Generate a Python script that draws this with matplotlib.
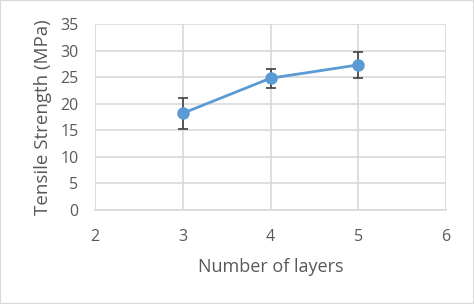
import matplotlib.pyplot as plt
from matplotlib.patches import Rectangle

# data
layers = [3, 4, 5]
strength = [18.2, 24.8, 27.3]
err_up = [2.9, 1.8, 2.45]
err_down = [2.9, 1.8, 2.45]

plt.rcParams['font.family'] = ['Open Sans', 'DejaVu Sans']

fig = plt.figure(figsize=(4.74, 3.04), dpi=100)
ax = fig.add_axes([95 / 474, 1 - 210 / 304, (446 - 95) / 474, (210 - 24) / 304])

ax.errorbar(layers, strength, yerr=[err_down, err_up], fmt='none',
            ecolor='#404040', elinewidth=1.2, capsize=3.5, capthick=1.2, zorder=3)
ax.plot(layers, strength, color='#5B9BD5', lw=2, marker='o', ms=8, zorder=4)

ax.set_xlim(2, 6)
ax.set_ylim(0, 35)
ax.set_xticks(range(2, 7))
ax.set_yticks(range(0, 36, 5))
ax.grid(True, color='#d9d9d9', lw=1.2)
ax.set_axisbelow(True)
for s in ['top', 'right', 'left']:
    ax.spines[s].set_visible(False)
ax.spines['bottom'].set_color('#d9d9d9')
ax.spines['bottom'].set_linewidth(1.2)
ax.tick_params(length=0, labelsize=11.5, labelcolor='#595959')
ax.tick_params(axis='y', pad=12)
ax.tick_params(axis='x', pad=14)
ax.set_xlabel('Number of layers', fontsize=13, color='#595959', labelpad=9)
ax.set_ylabel('Tensile Strength (MPa)', fontsize=13.5, color='#595959', labelpad=6)

fig.patches.append(Rectangle((0, 0), 1, 1, transform=fig.transFigure, fill=False,
                             edgecolor='#d9d9d9', lw=1.5))

fig.savefig('out.png', dpi=100)
